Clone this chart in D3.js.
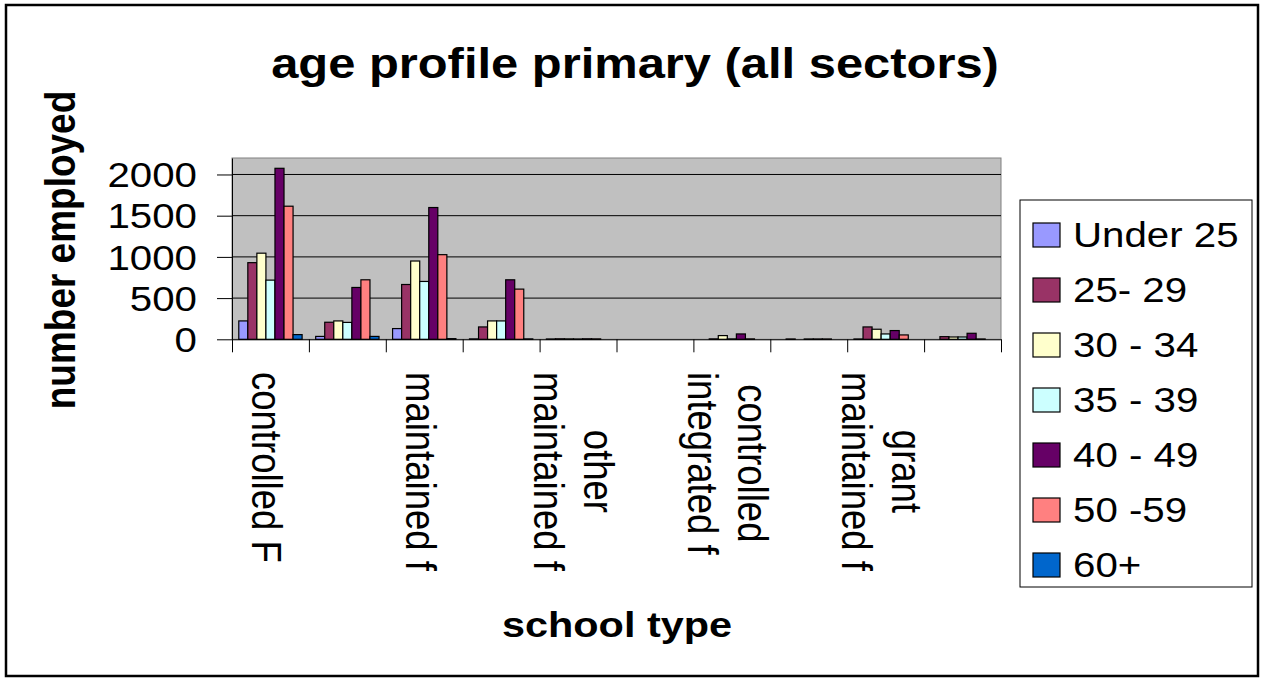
<!DOCTYPE html>
<html>
<head>
<meta charset="utf-8">
<script src="https://cdn.jsdelivr.net/npm/d3@7"></script>
<style>
  body { margin: 0; background: #fff; }
  text { font-family: "Liberation Sans", Arial, sans-serif; fill: #000; }
</style>
</head>
<body>
<div id="chart"></div>
<script>
// every other category label is skipped in the picture, so those are left blank
var categories = ['controlled F', '', 'maintained f', '', 'other\nmaintained f', '',
  'controlled\nintegrated f', '', 'grant\nmaintained f', ''];
var seriesNames = ['Under 25', '25- 29', '30 - 34', '35 - 39', '40 - 49', '50 -59', '60+'];
var seriesColors = ['#9999ff', '#993366', '#ffffcc', '#ccffff', '#660066', '#ff8080', '#0066cc'];

// one array per age band, one value per school type (null = no bar)
var under25 = [223, 35, 130, 5, 4, null, null, null, 4, null];
var age25 = [930, 207, 665, 150, 6, null, 5, 4, 150, 32];
var age30 = [1045, 223, 950, 223, 5, null, 45, null, 122, 28];
var age35 = [718, 205, 702, 223, 4, null, 5, 4, 65, 28];
var age40 = [2075, 629, 1599, 722, 6, null, 65, 4, 106, 73];
var age50 = [1615, 722, 1027, 609, 5, null, 5, 4, 53, 4];
var age60 = [57, 35, 8, 5, null, null, null, null, null, null];
var seriesValues = [under25, age25, age30, age35, age40, age50, age60];

var yTicks = [0, 500, 1000, 1500, 2000];
var yMax = 2200;

var W = 1266, H = 678;
var SX = 1.15; // the picture is stretched sideways, text too
var plot = {left: 232, right: 1001, top: 158, bottom: 339.3};

var svg = d3.select('#chart').append('svg')
  .attr('width', W)
  .attr('height', H);

svg.append('rect')
  .attr('x', 6).attr('y', 5)
  .attr('width', 1252).attr('height', 671)
  .attr('fill', '#fff')
  .attr('stroke', '#000')
  .attr('stroke-width', 2.5);

var x0 = d3.scaleBand()
  .domain(d3.range(categories.length))
  .range([plot.left, plot.right])
  .paddingInner(0.1765)
  .paddingOuter(0.0882);
var x1 = d3.scaleBand()
  .domain(d3.range(seriesNames.length))
  .range([0, x0.bandwidth()]);
var y = d3.scaleLinear().domain([0, yMax]).range([plot.bottom, plot.top]);
var xb = d3.scaleLinear().domain([0, categories.length]).range([plot.left, plot.right]);

function stretch(px, py, rot) {
  return 'translate(' + px + ',' + py + ') scale(' + SX + ',1)' + (rot ? ' rotate(' + rot + ')' : '');
}

// plot area
svg.append('rect')
  .attr('x', plot.left).attr('y', plot.top)
  .attr('width', plot.right - plot.left)
  .attr('height', plot.bottom - plot.top)
  .attr('fill', '#c0c0c0')
  .attr('stroke', '#808080');

svg.append('g').selectAll('line.grid')
  .data(yTicks.filter(function(d) { return d > 0; }))
  .enter().append('line')
  .attr('x1', plot.left).attr('x2', plot.right)
  .attr('y1', function(d) { return y(d); })
  .attr('y2', function(d) { return y(d); })
  .attr('stroke', '#000')
  .attr('stroke-width', 1);

// bars
var barData = [];
seriesValues.forEach(function(vals, s) {
  vals.forEach(function(v, c) {
    if (v !== null) barData.push({s: s, c: c, v: v});
  });
});

svg.append('g').selectAll('rect.bar')
  .data(barData)
  .enter().append('rect')
  .attr('class', 'bar')
  .attr('x', function(d) { return x0(d.c) + x1(d.s); })
  .attr('y', function(d) { return y(d.v); })
  .attr('width', x1.bandwidth())
  .attr('height', function(d) { return y(0) - y(d.v); })
  .attr('fill', function(d) { return seriesColors[d.s]; })
  .attr('stroke', '#000')
  .attr('stroke-width', 1.2);

// y axis
var yAxis = svg.append('g')
  .attr('transform', 'translate(' + plot.left + ',0)')
  .call(d3.axisLeft(y).tickValues(yTicks).tickFormat(d3.format('d'))
    .tickSize(15).tickSizeOuter(0));
yAxis.attr('font-size', null).attr('font-family', null);
yAxis.selectAll('line, path').attr('stroke', '#000');
yAxis.selectAll('.tick text')
  .attr('x', null)
  .attr('dy', '0.35em')
  .attr('font-size', 35)
  .attr('transform', 'translate(-35,0) scale(' + SX + ',1)');

// x axis, ticks between the categories
var xAxis = svg.append('g')
  .attr('transform', 'translate(0,' + plot.bottom + ')')
  .call(d3.axisBottom(xb).tickValues(d3.range(categories.length + 1))
    .tickSize(13).tickSizeOuter(0).tickFormat(''));
xAxis.selectAll('line, path').attr('stroke', '#000');

var labelTop = 372;
categories.forEach(function(name, i) {
  if (!name) return;
  var lines = name.split('\n');
  var cx = x0(i) + x0.bandwidth() / 2 - 4;
  var g = svg.append('g');
  var texts = lines.map(function(line, j) {
    var lx = cx + ((lines.length - 1) / 2 - j) * 50;
    return g.append('text')
      .attr('font-size', 36.5)
      .attr('text-anchor', 'middle')
      .attr('dy', '0.35em')
      .attr('data-x', lx)
      .text(line);
  });
  var maxLen = d3.max(texts, function(t) { return t.node().getComputedTextLength(); });
  texts.forEach(function(t) {
    t.attr('transform', stretch(+t.attr('data-x'), labelTop + maxLen / 2, 90));
  });
});

// titles
svg.append('text')
  .attr('transform', stretch(635, 78))
  .attr('text-anchor', 'middle')
  .attr('font-size', 42.5)
  .attr('font-weight', 'bold')
  .text('age profile primary (all sectors)');

svg.append('text')
  .attr('transform', stretch(617, 637))
  .attr('text-anchor', 'middle')
  .attr('font-size', 36)
  .attr('font-weight', 'bold')
  .text('school type');

svg.append('text')
  .attr('transform', stretch(60, 250, -90))
  .attr('text-anchor', 'middle')
  .attr('dy', '0.35em')
  .attr('font-size', 37)
  .attr('font-weight', 'bold')
  .text('number employed');

// legend
var legend = svg.append('g');
legend.append('rect')
  .attr('x', 1020).attr('y', 200)
  .attr('width', 232).attr('height', 387)
  .attr('fill', '#fff')
  .attr('stroke', '#000');

var rows = legend.selectAll('g.row')
  .data(seriesNames)
  .enter().append('g')
  .attr('class', 'row');
rows.append('rect')
  .attr('x', 1033)
  .attr('y', function(d, i) { return 235 + i * 55 - 12; })
  .attr('width', 27).attr('height', 24)
  .attr('fill', function(d, i) { return seriesColors[i]; })
  .attr('stroke', '#000')
  .attr('stroke-width', 1.2);
rows.append('text')
  .attr('transform', function(d, i) { return stretch(1073, 235 + i * 55); })
  .attr('dy', '0.35em')
  .attr('font-size', 35)
  .text(function(d) { return d; });
</script>
</body>
</html>
